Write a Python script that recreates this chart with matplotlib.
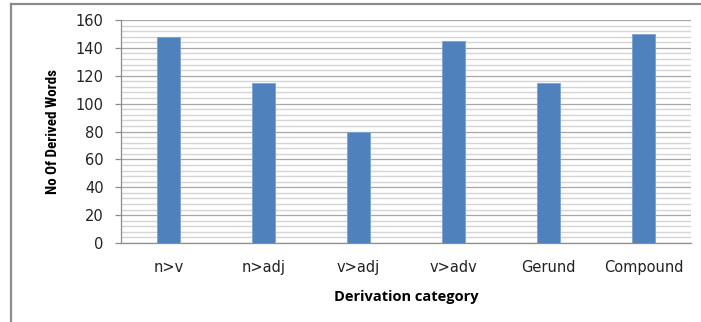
import matplotlib
matplotlib.use("Agg")
import matplotlib.pyplot as plt
from matplotlib import font_manager
from matplotlib.lines import Line2D
from matplotlib.ticker import MultipleLocator

categories = ["n>v", "n>adj", "v>adj", "v>adv", "Gerund", "Compound"]
derived_words = [148, 115, 80, 145, 115, 150]

# a narrow bold face for the vertical axis title, when one is available
installed = {f.name for f in font_manager.fontManager.ttflist}
ylabel_font = dict(family="Liberation Sans", size=8.9)
for name, size in [("Liberation Sans Narrow", 11.3), ("Roboto Condensed", 10.8),
                   ("Open Sans Condensed", 10.8), ("DejaVu Sans Condensed", 8.7)]:
    if name in installed:
        ylabel_font = dict(family=name, size=size)
        break
else:
    condensed = [f for f in font_manager.fontManager.ttflist
                 if f.name == "DejaVu Sans" and f.stretch == "condensed"
                 and f.weight in ("bold", 700)]
    if condensed:
        ylabel_font = dict(family="DejaVu Sans", size=8.7, stretch="condensed")

tick_family = "DejaVu Sans"

fig = plt.figure(figsize=(7.01, 3.22), dpi=100)
ax = fig.add_axes([121 / 701, 1 - 243 / 322, 570 / 701, 223 / 322])

# outer chart frame: only its left and top edges fall inside the image
frame_x, frame_y = 10.5 / 701, 1 - 3.5 / 322
for xs, ys in [([frame_x, frame_x], [-0.1, frame_y]), ([frame_x, 1.1], [frame_y, frame_y])]:
    fig.add_artist(Line2D(xs, ys, transform=fig.transFigure, color="#8c8c8c",
                          linewidth=1.6, solid_capstyle="projecting"))

x = range(len(categories))
ax.bar(x, derived_words, width=0.24, color="#4F81BD",
       edgecolor="#7ea3d1", linewidth=0.6, zorder=3)

ax.set_xlim(-0.5, len(categories) - 0.5)
ax.set_ylim(0, 160)
ax.yaxis.set_major_locator(MultipleLocator(20))
ax.yaxis.set_minor_locator(MultipleLocator(4))
ax.grid(which="minor", axis="y", color="#d4d4d4", linewidth=1.0, zorder=0)
ax.grid(which="major", axis="y", color="#a6a6a6", linewidth=0.9, zorder=1)

ax.set_xticks(list(x))
ax.set_xticklabels(categories, fontsize=10.5, family=tick_family, color="#222222")
for lab in ax.get_yticklabels():
    lab.set_family(tick_family)
ax.tick_params(axis="y", which="major", length=4.5, width=0.9, color="#8c8c8c",
               labelsize=10.5, pad=8, labelcolor="#222222")
ax.tick_params(axis="y", which="minor", length=0)
ax.tick_params(axis="x", length=0, pad=12)

for side in ("top", "right"):
    ax.spines[side].set_visible(False)
for side in ("left", "bottom"):
    ax.spines[side].set_color("#8c8c8c")
    ax.spines[side].set_linewidth(0.9)

ax.set_ylabel("No Of Derived Words", fontweight="bold",
              fontsize=ylabel_font["size"], family=ylabel_font["family"],
              fontstretch=ylabel_font.get("stretch", "normal"))
ax.yaxis.set_label_coords(-0.107, 0.5)
ax.set_xlabel("Derivation category", fontsize=10.5, fontweight="bold",
              family="Open Sans", labelpad=11)

fig.savefig("out.png", dpi=100)
